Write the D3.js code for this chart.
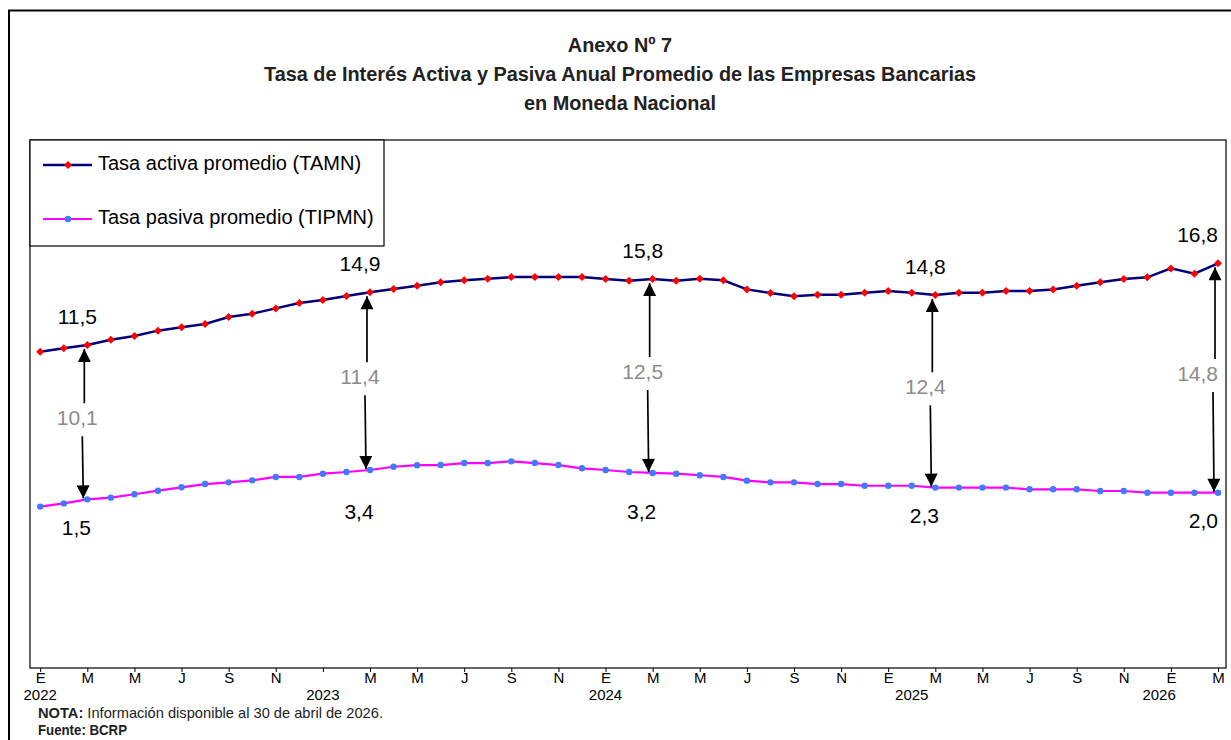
<!DOCTYPE html>
<html><head><meta charset="utf-8">
<script src="https://cdn.jsdelivr.net/npm/d3@7"></script>
<style>body{margin:0;background:#fff;} svg{display:block;}</style>
</head><body>
<svg id="c" width="1231" height="740"></svg>
<script>
// ---------- data ----------
const years = [2022, 2023, 2024, 2025, 2026];
const monthLetters = ["E","F","M","A","M","J","J","A","S","O","N","D"];
const nMonths = 51; // Ene 2022 .. Mar 2026
const tamn = [11.09,11.31,11.52,11.86,12.10,12.45,12.67,12.88,13.33,13.55,13.89,14.24,14.43,14.69,14.93,15.15,15.35,
              15.58,15.71,15.81,15.92,15.92,15.92,15.92,15.79,15.68,15.79,15.68,15.81,15.71,15.12,14.89,14.67,14.78,
              14.78,14.91,15.02,14.91,14.76,14.91,14.91,15.02,15.02,15.12,15.36,15.58,15.79,15.90,16.48,16.14,16.81];
const tipmn = [1.06,1.27,1.53,1.64,1.86,2.09,2.31,2.52,2.63,2.76,2.98,2.98,3.19,3.30,3.43,3.64,3.74,
               3.75,3.88,3.88,3.99,3.88,3.75,3.54,3.43,3.30,3.24,3.19,3.09,2.98,2.74,2.63,2.63,2.52,
               2.52,2.41,2.41,2.41,2.29,2.29,2.29,2.29,2.18,2.18,2.18,2.07,2.07,1.96,1.96,1.96,1.96];
const annotIdx = [2, 14, 26, 38, 50];
const annotTop = ["11,5","14,9","15,8","14,8","16,8"];
const annotBottom = ["1,5","3,4","3,2","2,3","2,0"];
const annotSpread = ["10,1","11,4","12,5","12,4","14,8"];
const seriesNames = ["Tasa activa promedio (TAMN)", "Tasa pasiva promedio (TIPMN)"];
const titleLines = ["Anexo Nº 7", "Tasa de Interés  Activa y Pasiva Anual Promedio de las Empresas Bancarias", "en Moneda Nacional"];
const yearLabelMonth = [0, 12, 24, 37, 47.5];

const tickLabel = i => (i % 2 === 0 && i !== 12) ? monthLetters[i % 12] : "";

// ---------- layout ----------
const svg = d3.select("#c");
const plot = {l: 30, t: 140, r: 1226, b: 668};
const x = d3.scalePoint().domain(d3.range(nMonths)).range([40.2, 1218]);
const y = d3.scaleLinear().domain([0, 20]).range([523, 214]);
const FONT = "'Liberation Sans', Arial, Helvetica, sans-serif";

// outer frame
svg.append("path").attr("d", "M9,740 V10.5 H1231").attr("fill","none").attr("stroke","#000").attr("stroke-width",2);

// titles (narrow look: squeeze to the reference widths)
const tt = svg.append("g").selectAll("text").data(titleLines).join("text")
  .attr("x", 620).attr("y", (d,i) => 52 + i*29)
  .attr("text-anchor","middle").attr("font-family", FONT).attr("font-weight","bold")
  .attr("font-size", 21).attr("fill","#222").text(d => d);
const ratio = 712 / tt.nodes()[1].getComputedTextLength();
tt.each(function(){ d3.select(this).attr("textLength", this.getComputedTextLength()*ratio).attr("lengthAdjust","spacingAndGlyphs"); });

// plot frame
svg.append("rect").attr("x", plot.l).attr("y", plot.t).attr("width", plot.r-plot.l).attr("height", plot.b-plot.t)
  .attr("fill","none").attr("stroke","#000").attr("stroke-width",1.2);

// x axis
const ax = svg.append("g").attr("transform", `translate(0,${plot.b})`)
  .call(d3.axisBottom(x).tickValues(d3.range(0, nMonths, 2)).tickSize(4).tickFormat(tickLabel));
ax.select(".domain").remove();
ax.selectAll("text").attr("font-family", FONT).attr("font-size", 15).attr("fill","#000").attr("dy","0.55em");
ax.selectAll("line").attr("stroke","#000");

svg.append("g").selectAll("text").data(years).join("text")
  .attr("x", (d,i) => x(0) + yearLabelMonth[i]*x.step())
  .attr("y", 700).attr("text-anchor","middle").attr("font-family", FONT).attr("font-size", 15)
  .text(d => d);

// lines
const line = d3.line().x((d,i) => x(i)).y(d => y(d));
svg.append("path").datum(tamn).attr("d", line).attr("fill","none").attr("stroke","#00007a").attr("stroke-width",2.5);
svg.append("path").datum(tipmn).attr("d", line).attr("fill","none").attr("stroke","#ff00ff").attr("stroke-width",2.2);

svg.append("g").selectAll("path").data(tamn).join("path")
  .attr("transform", (d,i) => `translate(${x(i)},${y(d)}) rotate(45)`)
  .attr("d", d3.symbol().type(d3.symbolSquare).size(32)).attr("fill","#ff0000");
svg.append("g").selectAll("circle").data(tipmn).join("circle")
  .attr("cx", (d,i) => x(i)).attr("cy", d => y(d)).attr("r", 3.2).attr("fill","#3f7bff");

// annotations
const defs = svg.append("defs");
defs.append("marker").attr("id","ah").attr("viewBox","0 0 10 10").attr("refX",10).attr("refY",5)
  .attr("markerUnits","userSpaceOnUse").attr("markerWidth",15).attr("markerHeight",13).attr("orient","auto")
  .append("path").attr("d","M0,0 L10,5 L0,10 Z").attr("fill","#000");

const measure = svg.append("text").attr("font-family", FONT).attr("font-size", 21).attr("visibility","hidden");
function textW(t){ measure.text(t); return measure.node().getComputedTextLength(); }
const clampX = (cx, t) => Math.min(cx, plot.r - 8 - textW(t)/2);

const ann = svg.append("g");
annotIdx.forEach((idx, k) => {
  const xi = x(idx), yt = y(tamn[idx]), yb = y(tipmn[idx]);
  const mid = (yt + yb) / 2;
  ann.append("text").attr("x", clampX(xi - 10, annotTop[k])).attr("y", yt - 27)
    .attr("text-anchor","middle").attr("dominant-baseline","middle")
    .attr("font-family", FONT).attr("font-size", 21).attr("fill","#000").text(annotTop[k]);
  ann.append("text").attr("x", clampX(xi - 11, annotBottom[k])).attr("y", Math.max(yb + 30, 513))
    .attr("text-anchor","middle").attr("dominant-baseline","middle")
    .attr("font-family", FONT).attr("font-size", 21).attr("fill","#000").text(annotBottom[k]);
  ann.append("text").attr("x", clampX(xi - 10, annotSpread[k])).attr("y", mid - 3)
    .attr("text-anchor","middle").attr("dominant-baseline","middle")
    .attr("font-family", FONT).attr("font-size", 21).attr("fill","#8c8c8c").text(annotSpread[k]);
  ann.append("line").attr("x1", xi - 3).attr("y1", mid - 19).attr("x2", xi - 3).attr("y2", yt + 4)
    .attr("stroke","#000").attr("stroke-width",1.7).attr("marker-end","url(#ah)");
  ann.append("line").attr("x1", xi - 5).attr("y1", mid + 14).attr("x2", xi - 4).attr("y2", yb - 1)
    .attr("stroke","#000").attr("stroke-width",1.7).attr("marker-end","url(#ah)");
});

// legend
const lg = svg.append("g");
lg.append("rect").attr("x", plot.l).attr("y", plot.t).attr("width", 354).attr("height", 106)
  .attr("fill","#fff").attr("stroke","#000").attr("stroke-width",1.2);
const legY = [165, 219];
lg.selectAll("line.s").data(seriesNames).join("line")
  .attr("x1", 43).attr("x2", 92).attr("y1", (d,i) => legY[i]).attr("y2", (d,i) => legY[i])
  .attr("stroke", (d,i) => i ? "#ff00ff" : "#00007a").attr("stroke-width", (d,i) => i ? 2.2 : 2.5);
lg.append("path").attr("transform", `translate(68,${legY[0]}) rotate(45)`)
  .attr("d", d3.symbol().type(d3.symbolSquare).size(32)).attr("fill","#ff0000");
lg.append("circle").attr("cx", 68).attr("cy", legY[1]).attr("r", 3.2).attr("fill","#3f7bff");
lg.selectAll("text").data(seriesNames).join("text")
  .attr("x", 98).attr("y", (d,i) => legY[i]).attr("dominant-baseline","middle")
  .attr("font-family", FONT).attr("font-size", 20).attr("fill","#000").text(d => d);

// notes
const note = svg.append("text").attr("x", 38).attr("y", 718).attr("font-family", FONT).attr("font-size", 15)
  .attr("fill","#222");
note.append("tspan").attr("font-weight","bold").text("NOTA:");
note.append("tspan").text(" Información disponible al 30 de abril de 2026.");
note.attr("textLength", 345).attr("lengthAdjust","spacingAndGlyphs");
svg.append("text").attr("x", 38).attr("y", 735).attr("font-family", FONT).attr("font-size", 14.5)
  .attr("font-weight","bold").attr("fill","#222").attr("textLength", 89).attr("lengthAdjust","spacingAndGlyphs")
  .text("Fuente: BCRP");
</script>
</body></html>
